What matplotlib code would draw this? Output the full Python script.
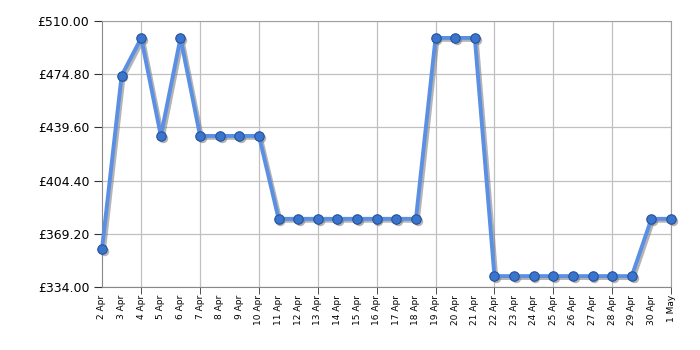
import matplotlib
matplotlib.use("Agg")
import matplotlib.pyplot as plt
import matplotlib.transforms as mtransforms

# ------------------------------
# Data
# ------------------------------
days = ["2 Apr", "3 Apr", "4 Apr", "5 Apr", "6 Apr", "7 Apr", "8 Apr", "9 Apr",
        "10 Apr", "11 Apr", "12 Apr", "13 Apr", "14 Apr", "15 Apr", "16 Apr",
        "17 Apr", "18 Apr", "19 Apr", "20 Apr", "21 Apr", "22 Apr", "23 Apr",
        "24 Apr", "25 Apr", "26 Apr", "27 Apr", "28 Apr", "29 Apr", "30 Apr", "1 May"]
prices = [359, 474, 499, 434, 499, 434, 434, 434,
          434, 379, 379, 379, 379, 379, 379,
          379, 379, 499, 499, 499, 341, 341,
          341, 341, 341, 341, 341, 341, 379, 379]
y_ticks = [334.00, 369.20, 404.40, 439.60, 474.80, 510.00]

# ------------------------------
# Plot
# ------------------------------
fig = plt.figure(figsize=(7, 3.5), dpi=100)
ax = fig.add_axes([0.1457, 0.181, 0.8129, 0.758])

x = list(range(len(days)))

# soft drop shadow: same series shifted a couple of pixels
shift = mtransforms.offset_copy(ax.transData, fig=fig, x=1.8, y=-1.8, units="dots")
ax.plot(x, prices, color="#777777", alpha=0.55, lw=3, marker="o", markersize=6.8,
        markeredgewidth=0, transform=shift, zorder=2, clip_on=False)

ax.plot(x, prices, color="#5b8fe3", lw=2.8, zorder=3, clip_on=False)
ax.plot(x, prices, linestyle="none", marker="o", markersize=6.8,
        markerfacecolor="#3b74cc", markeredgecolor="#24529a", markeredgewidth=0.8,
        zorder=4, clip_on=False)

ax.set_xlim(0, len(days) - 1)
ax.set_ylim(334, 510)

# labels every day, tick marks + grid every 3 days
ax.xaxis.remove_overlapping_locs = False
ax.set_xticks(x)
ax.set_xticklabels(days, rotation=90, fontsize=6.5)
ax.tick_params(axis="x", which="major", length=0, pad=6)
ax.set_xticks(list(range(2, len(days), 3)), minor=True)
ax.tick_params(axis="x", which="minor", length=5, color="#333333")
ax.xaxis.grid(True, which="minor", color="#c0c0c0", lw=0.9)

ax.set_yticks(y_ticks)
ax.set_yticklabels([f"£{v:.2f}" for v in y_ticks], fontsize=9)
ax.tick_params(axis="y", length=6, color="#333333", pad=3)
ax.yaxis.grid(True, color="#c0c0c0", lw=0.9)
ax.set_axisbelow(True)

for side in ["top", "right"]:
    ax.spines[side].set_color("#a0a0a0")
for side in ["left", "bottom"]:
    ax.spines[side].set_color("#888888")

fig.savefig("out.png", dpi=100)
